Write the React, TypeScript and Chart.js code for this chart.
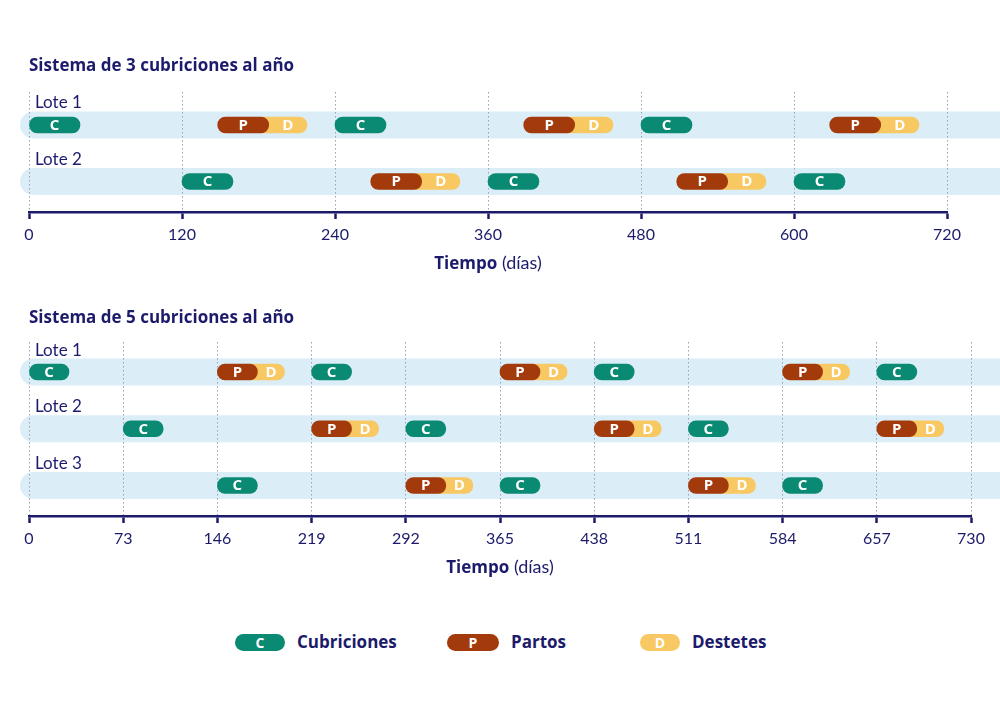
import React, { useEffect, useRef } from 'react';
import { Chart, registerables } from 'chart.js';

Chart.register(...registerables);

type Iv = [number, number];

// ---------- Sistema de 3 cubriciones al año ----------
const title3 = 'Sistema de 3 cubriciones al año';
const lotes3 = ['Lote 1', 'Lote 2'];
const axisMax3 = 720;
const axisStep3 = 120;
const cub3Lote1: Iv[] = [[0, 40], [240, 280], [480, 520]];
const par3Lote1: Iv[] = [[148, 188], [388, 428], [628, 668]];
const des3Lote1: Iv[] = [[188, 218], [428, 458], [668, 698]];
const cub3Lote2: Iv[] = [[120, 160], [360, 400], [600, 640]];
const par3Lote2: Iv[] = [[268, 308], [508, 548]];
const des3Lote2: Iv[] = [[308, 338], [548, 578]];

// ---------- Sistema de 5 cubriciones al año ----------
const title5 = 'Sistema de 5 cubriciones al año';
const lotes5 = ['Lote 1', 'Lote 2', 'Lote 3'];
const axisMax5 = 730;
const axisStep5 = 73;
const cub5Lote1: Iv[] = [[0, 31], [219, 250], [438, 469], [657, 688]];
const par5Lote1: Iv[] = [[146, 177], [365, 396], [584, 615]];
const des5Lote1: Iv[] = [[177, 198], [396, 417], [615, 636]];
const cub5Lote2: Iv[] = [[73, 104], [292, 323], [511, 542]];
const par5Lote2: Iv[] = [[219, 250], [438, 469], [657, 688]];
const des5Lote2: Iv[] = [[250, 271], [469, 490], [688, 709]];
const cub5Lote3: Iv[] = [[146, 177], [365, 396], [584, 615]];
const par5Lote3: Iv[] = [[292, 323], [511, 542]];
const des5Lote3: Iv[] = [[323, 344], [542, 563]];

// ---------- Leyenda ----------
const legendLetters = ['C', 'P', 'D'];
const legendLabels = ['Cubriciones', 'Partos', 'Destetes'];
const axisTitleBold = 'Tiempo';
const axisTitleRegular = ' (días)';

// ---------- Styles ----------
const NAVY = '#1c1b6b';
const TEAL = '#0b8a73';
const BROWN = '#a33a0b';
const YELLOW = '#f8c862';
const BAND = '#dbeef8';
const GRID = '#9d9db5';
const FONT = 'Lato, "Open Sans", sans-serif';
const BOLDFONT = '"Open Sans", Lato, sans-serif';
const COLORS = [TEAL, BROWN, YELLOW];

type PanelCfg = {
  title: string;
  lotes: string[];
  max: number;
  step: number;
  cub: Iv[][];
  par: Iv[][];
  des: Iv[][];
  top: number;
  height: number;
  pad: { left: number; right: number; top: number; bottom: number };
  yMin: number;
  yMax: number;
  titleY: number;
  tuck: number;
};

const panels: PanelCfg[] = [
  {
    title: title3, lotes: lotes3, max: axisMax3, step: axisStep3,
    cub: [cub3Lote1, cub3Lote2], par: [par3Lote1, par3Lote2], des: [des3Lote1, des3Lote2],
    top: 0, height: 290, pad: { left: 29, right: 53, top: 92, bottom: 18 },
    yMin: 0.416, yMax: 2.54, titleY: 66, tuck: 6,
  },
  {
    title: title5, lotes: lotes5, max: axisMax5, step: axisStep5,
    cub: [cub5Lote1, cub5Lote2, cub5Lote3], par: [par5Lote1, par5Lote2, par5Lote3], des: [des5Lote1, des5Lote2, des5Lote3],
    top: 290, height: 320, pad: { left: 29, right: 29, top: 52, bottom: 34 },
    yMin: 0.471, yMax: 3.537, titleY: 28, tuck: 6,
  },
];

function Panel({ cfg }: { cfg: PanelCfg }) {
  const ref = useRef<HTMLCanvasElement>(null);
  useEffect(() => {
    const toData = (lists: Iv[][], tuck = 0) =>
      lists.flatMap((ivs, r) => ivs.map(([s, e]) => ({ x: [s - tuck, e], y: r + 1, s, e })));

    const bandsPlugin = {
      id: 'bands',
      beforeDraw(chart: any) {
        const { ctx, chartArea, scales } = chart;
        ctx.save();
        ctx.fillStyle = BAND;
        cfg.lotes.forEach((_, r) => {
          const yc = scales.y.getPixelForValue(r + 1);
          const h = 27;
          const x0 = chartArea.left - 9;
          const x1 = chart.width + 20;
          ctx.beginPath();
          ctx.roundRect(x0, yc - h / 2, x1 - x0, h, [h / 2, 0, 0, h / 2]);
          ctx.fill();
        });
        ctx.restore();
      },
    };

    const textPlugin = {
      id: 'texts',
      afterDraw(chart: any) {
        const { ctx, chartArea, scales } = chart;
        ctx.save();
        // letters on pills
        ctx.textAlign = 'center';
        ctx.textBaseline = 'middle';
        ctx.fillStyle = '#ffffff';
        ctx.font = `bold 15px ${BOLDFONT}`;
        chart.data.datasets.forEach((ds: any) => {
          ds.data.forEach((d: any) => {
            const x = scales.x.getPixelForValue((d.s + d.e) / 2);
            const y = scales.y.getPixelForValue(d.y);
            ctx.fillText(ds.letter, x, y + 0.5);
          });
        });
        // lote labels
        ctx.textAlign = 'left';
        ctx.fillStyle = NAVY;
        ctx.font = `17px ${FONT}`;
        cfg.lotes.forEach((l, r) => {
          ctx.fillText(l, chartArea.left + 6, scales.y.getPixelForValue(r + 1) - 22);
        });
        // panel title
        ctx.font = `bold 17px ${BOLDFONT}`;
        ctx.fillText(cfg.title, chartArea.left, cfg.titleY);
        // axis title
        const regFont = `18px ${FONT}`;
        const boldFont = `bold 17px ${BOLDFONT}`;
        ctx.font = boldFont;
        const w1 = ctx.measureText(axisTitleBold).width;
        ctx.font = regFont;
        const w2 = ctx.measureText(axisTitleRegular).width;
        const cx = (chartArea.left + chartArea.right) / 2;
        const x0 = cx - (w1 + w2) / 2;
        const ty = chartArea.bottom + 51;
        ctx.textBaseline = 'alphabetic';
        ctx.font = boldFont;
        ctx.fillText(axisTitleBold, x0, ty + 6);
        ctx.font = regFont;
        ctx.fillText(axisTitleRegular, x0 + w1, ty + 6);
        ctx.restore();
      },
    };

    const chart = new Chart(ref.current as HTMLCanvasElement, {
      type: 'bar',
      data: {
        datasets: [
          { label: 'Partos', data: toData(cfg.par), backgroundColor: BROWN, borderRadius: 8, letter: 'P' } as any,
          {
            label: 'Destetes', data: toData(cfg.des, cfg.tuck), backgroundColor: YELLOW,
            borderRadius: { topLeft: 0, bottomLeft: 0, topRight: 8, bottomRight: 8 }, letter: 'D',
          } as any,
          { label: 'Cubriciones', data: toData(cfg.cub), backgroundColor: TEAL, borderRadius: 8, letter: 'C' } as any,
        ],
      },
      options: {
        indexAxis: 'y',
        responsive: false,
        animation: false,
        events: [],
        layout: { padding: cfg.pad },
        datasets: { bar: { barThickness: 16, grouped: false, borderSkipped: false } } as any,
        plugins: { legend: { display: false }, tooltip: { enabled: false }, title: { display: false } },
        scales: {
          x: {
            type: 'linear',
            min: 0,
            max: cfg.max,
            offset: false,
            ticks: {
              stepSize: cfg.step, color: NAVY, font: { family: FONT, size: 16 }, padding: 6,
              autoSkip: false, maxRotation: 0,
            },
            grid: { color: GRID, lineWidth: 1, drawTicks: true, tickLength: 7, tickColor: NAVY, tickWidth: 2.5 } as any,
            border: { display: true, color: NAVY, width: 2.5, dash: [1.5, 2.5] } as any,
            afterFit: (s: any) => { s.height = 60; },
          },
          y: { type: 'linear', reverse: true, offset: false, min: cfg.yMin, max: cfg.yMax, display: false },
        },
      } as any,
      plugins: [bandsPlugin, textPlugin],
    });
    return () => chart.destroy();
  }, [cfg]);
  return (
    <canvas
      ref={ref}
      width={1000}
      height={cfg.height}
      style={{ position: 'absolute', left: 0, top: cfg.top, width: 1000, height: cfg.height, display: 'block' }}
    />
  );
}

const legendPos = [
  { pill: 235, w: 50, text: 297 },
  { pill: 447, w: 52, text: 511 },
  { pill: 640, w: 40, text: 692 },
];

export default function App() {
  return (
    <div style={{ position: 'absolute', left: 0, top: 0, width: 1000, height: 714, background: '#fff', overflow: 'hidden' }}>
      {panels.map((p, i) => <Panel key={i} cfg={p} />)}
      {legendLabels.map((lab, i) => (
        <React.Fragment key={lab}>
          <div
            style={{
              position: 'absolute', left: legendPos[i].pill, top: 634, width: legendPos[i].w, height: 17,
              borderRadius: 9, background: COLORS[i], color: '#fff', fontFamily: BOLDFONT, fontWeight: 700,
              fontSize: 14, lineHeight: '17px', textAlign: 'center',
            }}
          >
            {legendLetters[i]}
          </div>
          <div
            style={{
              position: 'absolute', left: legendPos[i].text, top: 630, height: 24, lineHeight: '24px',
              fontFamily: BOLDFONT, fontWeight: 700, fontSize: 17, color: NAVY, whiteSpace: 'nowrap',
            }}
          >
            {lab}
          </div>
        </React.Fragment>
      ))}
    </div>
  );
}
